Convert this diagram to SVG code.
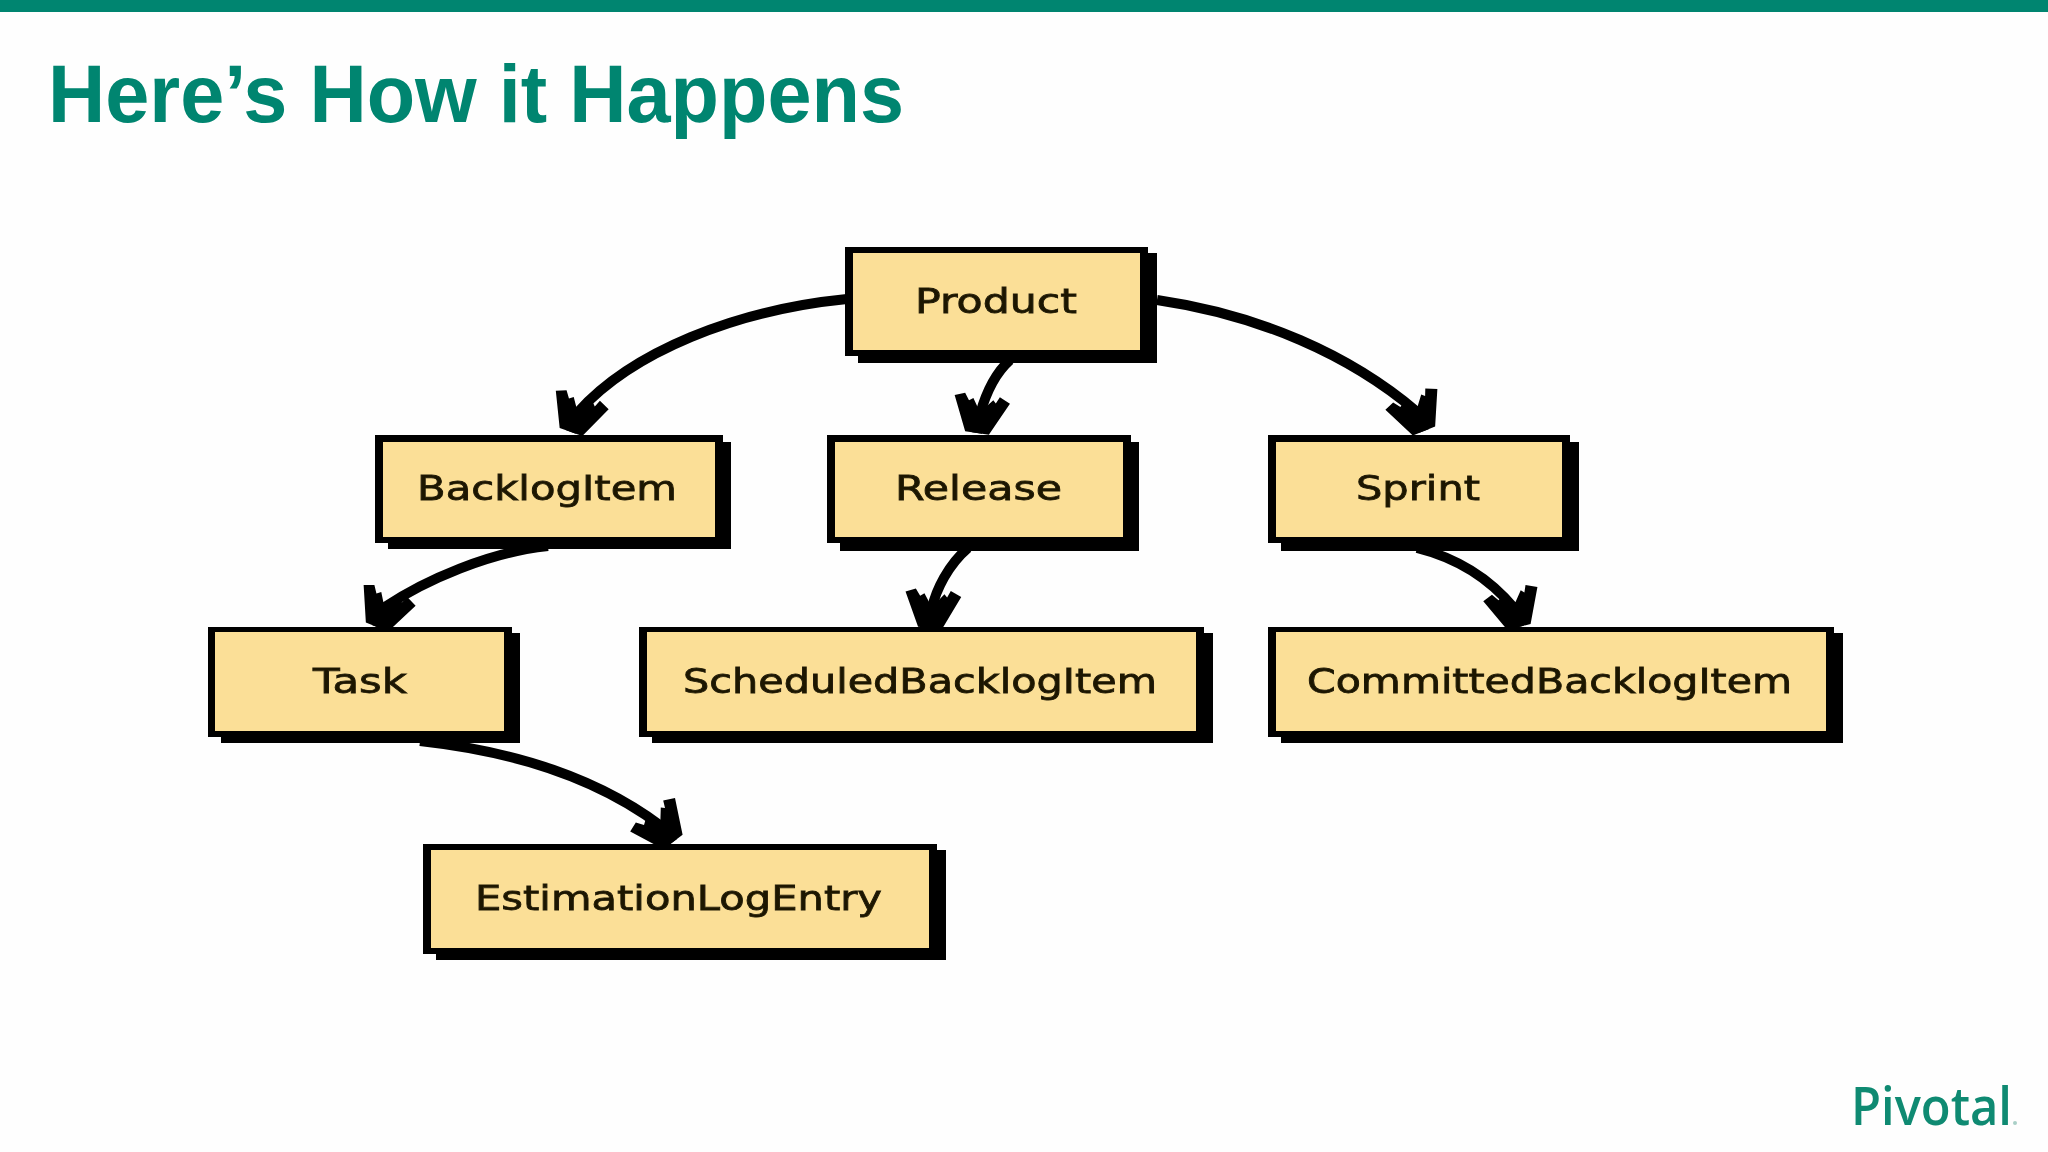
<svg xmlns="http://www.w3.org/2000/svg" width="2048" height="1152" viewBox="0 0 2048 1152">
<style>
.k{fill:#050403}
.f{fill:#fbdf97}
.t{font-family:"DejaVu Sans","Liberation Sans",sans-serif;font-size:34px;fill:#1f1905;stroke:#1f1905;stroke-width:.8px}
.c{fill:none;stroke:#050403;stroke-width:10px;marker-end:url(#h)}
.title{font-family:"Liberation Sans",Arial,sans-serif;font-weight:700;font-size:82px;fill:#008570}
.logo{font-family:"Open Sans","Noto Sans",sans-serif;font-weight:600;font-size:53px;fill:#0f8a72}
</style>
<defs>
<marker id="h" markerUnits="userSpaceOnUse" markerWidth="60" markerHeight="70" refX="36" refY="0" orient="auto" overflow="visible" viewBox="-6 -35 48 70">
<path class="k" d="M36 -12L2 -28L-3 -17L4 -14L1 -11L11 -3L11 3L2 9L5 13L-2 18L2 28L36 12Z"/>
</marker>
<filter id="b" x="-2%" y="-2%" width="104%" height="104%"><feGaussianBlur stdDeviation="0.7"/></filter>
</defs>
<rect width="2048" height="1152" fill="#fefefe"/>
<rect id="topbar" width="2048" height="12" fill="#008570"/>
<text class="title" x="48" y="122" textLength="856" lengthAdjust="spacingAndGlyphs">Here’s How it Happens</text>
<g filter="url(#b)">
<g id="connectors">
<path class="c" d="M847 299C735 310 632 352 578 412L571 432"/>
<path class="c" d="M1010 360C992 376 984 400 980 414L977 433"/>
<path class="c" d="M1157 300C1260 315 1350 355 1416 411L1424 431"/>
<path class="c" d="M548 546C490 552 425 580 385 607L377 627"/>
<path class="c" d="M968 548C948 565 936 590 932 608L930 628"/>
<path class="c" d="M1417 548C1465 560 1495 585 1514 608L1519 627"/>
<path class="c" d="M420 741C520 752 600 780 661 826L673 842"/>
</g>
<g id="product">
<rect class="k" x="858" y="253" width="299" height="110"/><rect class="k" x="845" y="247" width="303" height="109"/><rect class="f" x="853" y="253" width="287" height="97"/>
<text class="t" x="915" y="313" textLength="162" lengthAdjust="spacingAndGlyphs">Product</text>
</g>
<g id="backlogitem">
<rect class="k" x="388" y="442" width="343" height="107"/><rect class="k" x="375" y="435" width="348" height="108"/><rect class="f" x="383" y="442" width="332" height="95"/>
<text class="t" x="417" y="500" textLength="260" lengthAdjust="spacingAndGlyphs">BacklogItem</text>
</g>
<g id="release">
<rect class="k" x="840" y="442" width="299" height="109"/><rect class="k" x="827" y="435" width="304" height="108"/><rect class="f" x="835" y="442" width="288" height="95"/>
<text class="t" x="895" y="500" textLength="167" lengthAdjust="spacingAndGlyphs">Release</text>
</g>
<g id="sprint">
<rect class="k" x="1281" y="442" width="298" height="109"/><rect class="k" x="1268" y="435" width="302" height="108"/><rect class="f" x="1276" y="442" width="286" height="95"/>
<text class="t" x="1356" y="500" textLength="124" lengthAdjust="spacingAndGlyphs">Sprint</text>
</g>
<g id="task">
<rect class="k" x="221" y="633" width="299" height="110"/><rect class="k" x="208" y="627" width="304" height="110"/><rect class="f" x="215" y="632" width="289" height="99"/>
<text class="t" x="313" y="693" textLength="94" lengthAdjust="spacingAndGlyphs">Task</text>
</g>
<g id="scheduledbacklogitem">
<rect class="k" x="652" y="633" width="561" height="110"/><rect class="k" x="639" y="627" width="565" height="110"/><rect class="f" x="647" y="632" width="549" height="99"/>
<text class="t" x="683" y="693" textLength="474" lengthAdjust="spacingAndGlyphs">ScheduledBacklogItem</text>
</g>
<g id="committedbacklogitem">
<rect class="k" x="1281" y="633" width="562" height="110"/><rect class="k" x="1268" y="627" width="566" height="110"/><rect class="f" x="1276" y="632" width="550" height="99"/>
<text class="t" x="1307" y="693" textLength="485" lengthAdjust="spacingAndGlyphs">CommittedBacklogItem</text>
</g>
<g id="estimationlogentry">
<rect class="k" x="436" y="850" width="510" height="110"/><rect class="k" x="423" y="844" width="514" height="110"/><rect class="f" x="431" y="850" width="498" height="98"/>
<text class="t" x="475" y="910" textLength="407" lengthAdjust="spacingAndGlyphs">EstimationLogEntry</text>
</g>
</g>
<g id="logo">
<text class="logo" x="1851" y="1125" textLength="161" lengthAdjust="spacingAndGlyphs">Pivotal</text>
<circle cx="2015" cy="1123" r="2" fill="#a9cfc7"/>
</g>
</svg>
